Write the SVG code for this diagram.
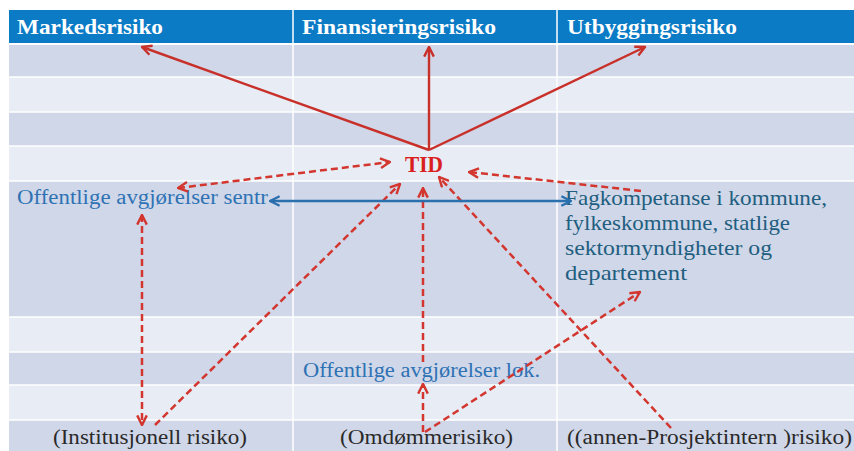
<svg xmlns="http://www.w3.org/2000/svg" width="854" height="451" viewBox="0 0 854 451">
  <defs>
    <style>
      .hdr { fill: #0B7BC6; }
      .dark { fill: #D0D7E8; }
      .light { fill: #E8ECF4; }
      .sep { stroke: #FFFFFF; stroke-width: 1.5; }
      .htext { font-family: "Liberation Serif", "DejaVu Serif", serif; font-weight: bold; font-size: 21px; fill: #FFFFFF; }
      .btext { font-family: "Liberation Serif", "DejaVu Serif", serif; font-size: 20px; fill: #2E72B4; }
      .ttext { font-family: "Liberation Serif", "DejaVu Serif", serif; font-size: 21px; fill: #215E80; }
      .ktext { font-family: "Liberation Serif", "DejaVu Serif", serif; font-size: 20px; fill: #2A2A2A; }
      .tid { font-family: "Liberation Serif", "DejaVu Serif", serif; font-weight: bold; font-size: 23px; fill: #D9201E; }
      .solid { stroke: #C8302A; stroke-width: 2.4; fill: none; }
      .dash { stroke: #D2362E; stroke-width: 2.5; fill: none; stroke-dasharray: 7 4; }
      .blue { stroke: #2A6FAE; stroke-width: 2.4; fill: none; }
    </style>
    <marker id="headRed" viewBox="0 0 10 10" refX="9" refY="5" markerWidth="12" markerHeight="12" markerUnits="userSpaceOnUse" orient="auto-start-reverse">
      <path d="M1,1 L9,5 L1,9" fill="none" stroke="#C8302A" stroke-width="2"/>
    </marker>
    <marker id="headDash" viewBox="0 0 10 10" refX="9" refY="5" markerWidth="12" markerHeight="12" markerUnits="userSpaceOnUse" orient="auto-start-reverse">
      <path d="M1,1 L9,5 L1,9" fill="none" stroke="#D2362E" stroke-width="2"/>
    </marker>
    <marker id="headBlue" viewBox="0 0 10 10" refX="9" refY="5" markerWidth="12" markerHeight="12" markerUnits="userSpaceOnUse" orient="auto-start-reverse">
      <path d="M1,1 L9,5 L1,9" fill="none" stroke="#2A6FAE" stroke-width="2"/>
    </marker>
  </defs>

  <rect width="854" height="451" fill="#FFFFFF"/>

  <!-- table background -->
  <g id="table">
    <rect class="hdr" x="9" y="10" width="845" height="33"/>
    <rect class="dark" x="9" y="45" width="845" height="32"/>
    <rect class="light" x="9" y="77" width="845" height="35"/>
    <rect class="dark" x="9" y="112" width="845" height="34"/>
    <rect class="light" x="9" y="146" width="845" height="35"/>
    <rect class="dark" x="9" y="181" width="845" height="136"/>
    <rect class="light" x="9" y="317" width="845" height="35"/>
    <rect class="dark" x="9" y="352" width="845" height="33"/>
    <rect class="light" x="9" y="385" width="845" height="35"/>
    <rect class="dark" x="9" y="420" width="845" height="31"/>
    <g class="sep">
      <line x1="9" y1="77" x2="854" y2="77"/>
      <line x1="9" y1="112" x2="854" y2="112"/>
      <line x1="9" y1="146" x2="854" y2="146"/>
      <line x1="9" y1="181" x2="854" y2="181"/>
      <line x1="9" y1="317" x2="854" y2="317"/>
      <line x1="9" y1="352" x2="854" y2="352"/>
      <line x1="9" y1="385" x2="854" y2="385"/>
      <line x1="9" y1="420" x2="854" y2="420"/>
      <line x1="293" y1="10" x2="293" y2="451"/>
      <line x1="557" y1="10" x2="557" y2="451"/>
    </g>
  </g>

  <!-- column headings -->
  <g id="markedsrisiko"><text class="htext" x="17" y="34" textLength="146" lengthAdjust="spacingAndGlyphs">Markedsrisiko</text></g>
  <g id="finansieringsrisiko"><text class="htext" x="302" y="34" textLength="194" lengthAdjust="spacingAndGlyphs">Finansieringsrisiko</text></g>
  <g id="utbyggingsrisiko"><text class="htext" x="567" y="34" textLength="170" lengthAdjust="spacingAndGlyphs">Utbyggingsrisiko</text></g>

  <!-- central node -->
  <g id="tid"><text class="tid" x="405" y="172" textLength="38" lengthAdjust="spacingAndGlyphs">TID</text></g>

  <g id="offentlige-sentr"><text class="btext" x="17" y="204" textLength="251" lengthAdjust="spacingAndGlyphs">Offentlige avgjørelser sentr</text></g>

  <g id="fagkompetanse" class="ttext">
    <text x="565" y="205" textLength="262" lengthAdjust="spacingAndGlyphs">Fagkompetanse i kommune,</text>
    <text x="565" y="230" textLength="225" lengthAdjust="spacingAndGlyphs">fylkeskommune, statlige</text>
    <text x="565" y="255" textLength="207" lengthAdjust="spacingAndGlyphs">sektormyndigheter og</text>
    <text x="565" y="280" textLength="122" lengthAdjust="spacingAndGlyphs">departement</text>
  </g>

  <g id="offentlige-lok"><text class="btext" x="303" y="377" textLength="237" lengthAdjust="spacingAndGlyphs">Offentlige avgjørelser lok.</text></g>

  <g id="institusjonell"><text class="ktext" x="53" y="444" textLength="194" lengthAdjust="spacingAndGlyphs">(Institusjonell risiko)</text></g>
  <g id="omdomme"><text class="ktext" x="340" y="444" textLength="173" lengthAdjust="spacingAndGlyphs">(Omdømmerisiko)</text></g>
  <g id="prosjektintern"><text class="ktext" x="567" y="444" textLength="285" lengthAdjust="spacingAndGlyphs">((annen-Prosjektintern )risiko)</text></g>

  <!-- connectors -->
  <g id="connectors">
    <line class="solid" x1="429" y1="150" x2="142" y2="47" marker-end="url(#headRed)"/>
    <line class="solid" x1="429" y1="150" x2="429" y2="47" marker-end="url(#headRed)"/>
    <line class="solid" x1="429" y1="150" x2="645" y2="47" marker-end="url(#headRed)"/>

    <line class="dash" x1="178" y1="188" x2="390" y2="162" marker-start="url(#headDash)" marker-end="url(#headDash)"/>
    <line class="dash" x1="142" y1="215" x2="142" y2="425" marker-start="url(#headDash)" marker-end="url(#headDash)"/>
    <line class="dash" x1="155" y1="425" x2="400" y2="184" marker-end="url(#headDash)"/>
    <line class="dash" x1="423" y1="362" x2="423" y2="188" marker-end="url(#headDash)"/>
    <line class="dash" x1="423" y1="432" x2="423" y2="384" marker-end="url(#headDash)"/>
    <line class="dash" x1="425" y1="432" x2="640" y2="292" marker-end="url(#headDash)"/>
    <line class="dash" x1="641" y1="191" x2="469" y2="172" marker-end="url(#headDash)"/>
    <line class="dash" x1="671" y1="428" x2="439" y2="177" marker-end="url(#headDash)"/>

    <line class="blue" x1="270" y1="201" x2="571" y2="201" marker-start="url(#headBlue)" marker-end="url(#headBlue)"/>
  </g>
</svg>
